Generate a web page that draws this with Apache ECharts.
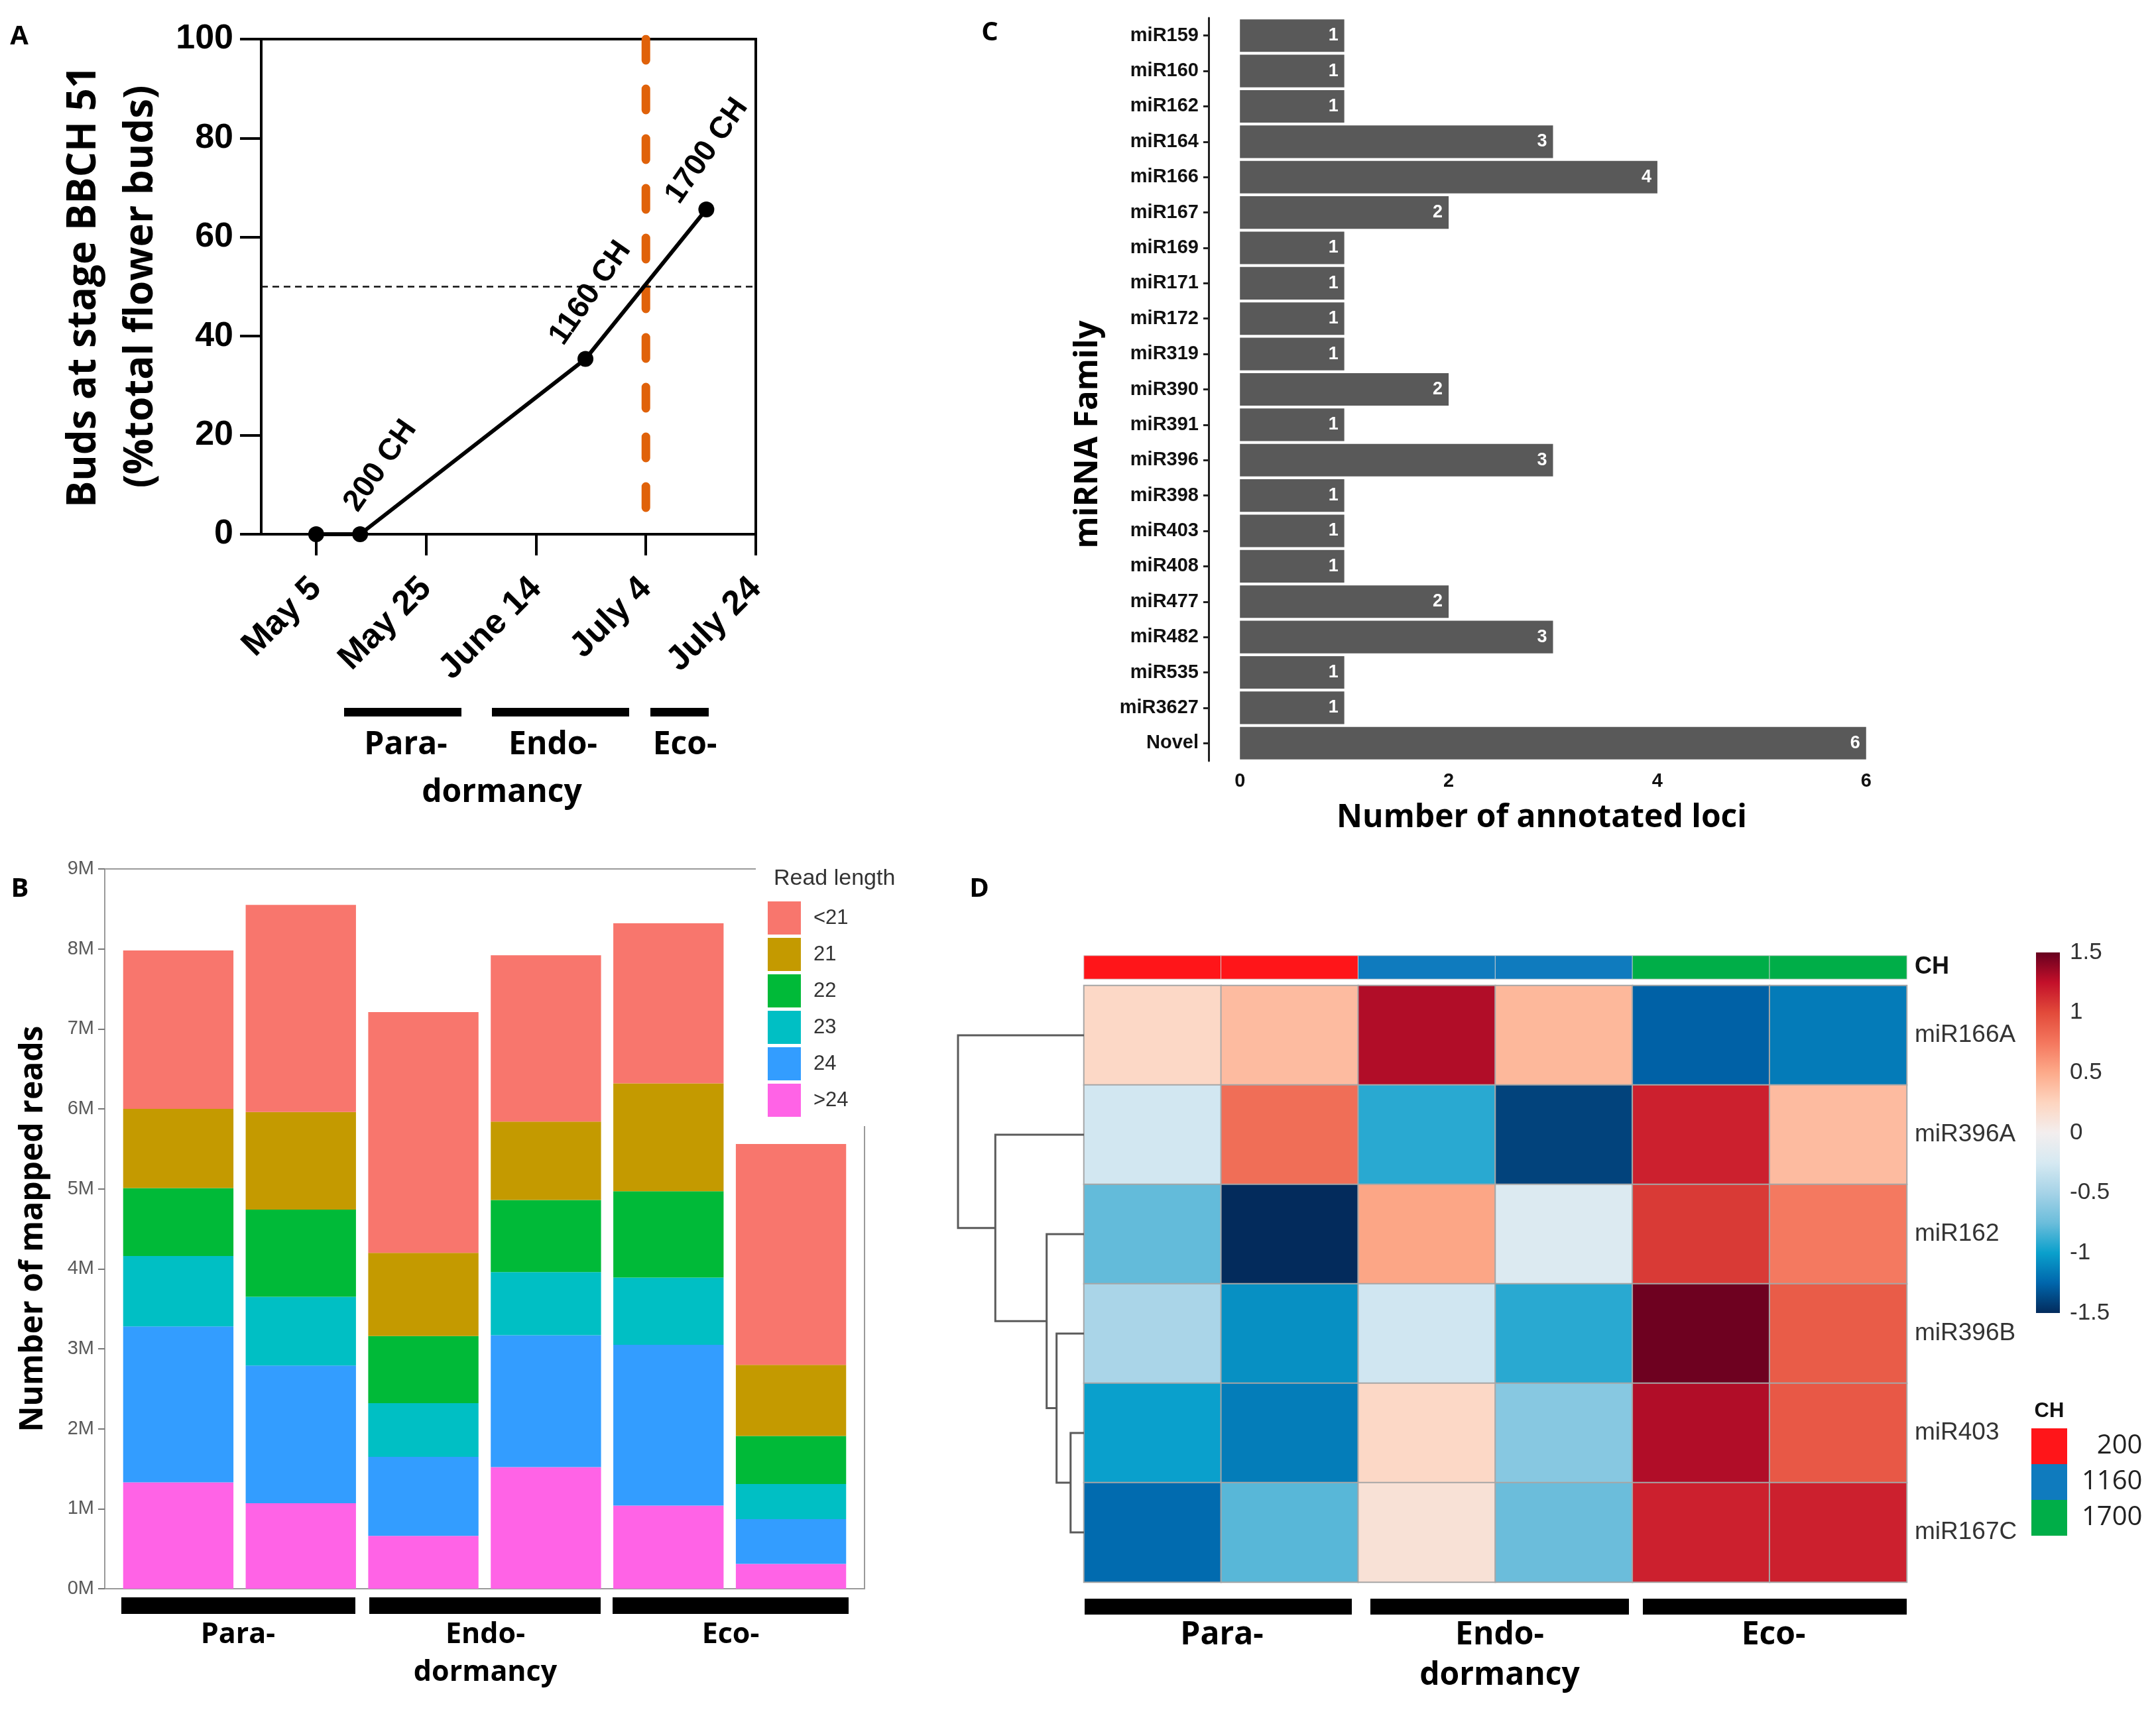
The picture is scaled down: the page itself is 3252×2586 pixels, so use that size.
<!DOCTYPE html>
<html><head><meta charset="utf-8">
<script src="https://cdn.jsdelivr.net/npm/echarts@6/dist/echarts.min.js"></script>
<style>html,body{margin:0;padding:0;background:#fff}#c{width:3252px;height:2586px}</style>
</head><body><div id="c"></div>
<script>
// ---------- Panel A data ----------
const budDays = [0, 8, 49, 71];            // days after May 5
const budPct = [0, 0, 35.4, 65.6];
const noteText = ['200 CH', '1160 CH', '1700 CH'];
const noteDays = [11.7, 49.9, 71.1];
const notePct = [13.8, 48.7, 77.4];
const dateTickDays = [0, 20, 40, 60, 80];
const dateTickLabels = ['May 5', 'May 25', 'June 14', 'July 4', 'July 24'];
const thresholdPct = 50;
const ecoOnsetDay = 60;
const ecoLineRange = [100, 5];

// ---------- Panel C data ----------
const families = ['miR159','miR160','miR162','miR164','miR166','miR167','miR169','miR171','miR172','miR319','miR390','miR391','miR396','miR398','miR403','miR408','miR477','miR482','miR535','miR3627','Novel'];
const loci = [1,1,1,3,4,2,1,1,1,1,2,1,3,1,1,1,2,3,1,1,6];
const lociTicks = [0, 2, 4, 6];

// ---------- Panel B data (millions of reads) ----------
const samplesB = ['Para-1','Para-2','Endo-1','Endo-2','Eco-1','Eco-2'];
const readGt24 = [1.33, 1.07, 0.66, 1.52, 1.04, 0.31];
const read24   = [1.95, 1.72, 0.99, 1.65, 2.01, 0.56];
const read23   = [0.88, 0.86, 0.67, 0.79, 0.84, 0.44];
const read22   = [0.85, 1.09, 0.84, 0.90, 1.08, 0.60];
const read21   = [0.99, 1.22, 1.04, 0.98, 1.35, 0.89];
const readLt21 = [1.98, 2.59, 3.01, 2.08, 2.00, 2.76];
const readNames = ['<21','21','22','23','24','>24'];

// ---------- Panel D data ----------
const hmRows = ['miR166A','miR396A','miR162','miR396B','miR403','miR167C'];
const hmCols = ['Para-1','Para-2','Endo-1','Endo-2','Eco-1','Eco-2'];
const z166A = [0.22, 0.40, 1.30, 0.42, -1.27, -1.16];
const z396A = [-0.27, 0.80, -0.92, -1.40, 1.18, 0.40];
const z162  = [-0.77, -1.50, 0.52, -0.20, 1.07, 0.74];
const z396B = [-0.48, -1.07, -0.28, -0.92, 1.48, 0.90];
const z403  = [-1.00, -1.15, 0.22, -0.63, 1.30, 0.92];
const z167C = [-1.23, -0.80, 0.13, -0.75, 1.18, 1.18];
const colCH = [200, 200, 1160, 1160, 1700, 1700];
const chLevels = [200, 1160, 1700];
// hclust-style merges: negative = leaf row (1-based), positive = earlier merge (1-based)
const dendroMerge = [[-5, -6], [-4, 1], [-3, 2], [-2, 3], [-1, 4]];
const dendroHeight = [0.85, 1.74, 2.37, 5.63, 8.0];
const zTicks = [-1.5, 1.5];

// ---------- styles ----------
const palette = ['#032B5C','#0066AC','#0AA0CC','#6BBDDB','#A6D3E7','#D6E9F2','#F3EEEE','#FDD5C0','#FDAA8A','#F4775E','#E24A3A','#C3102A','#67001F'];
const chColors = ['#FF1519', '#0F7BBE', '#00AE48'];
const readColors = {'<21':'#F8766D','21':'#C49A00','22':'#00BA38','23':'#00BFC4','24':'#339DFF','>24':'#FF63E6'};
const LS = 'Liberation Sans, Arial, sans-serif';
const OS = 'Open Sans, sans-serif';

const hmZ = [z166A, z396A, z162, z396B, z403, z167C];
const hmData = [];
hmZ.forEach((row, r) => row.forEach((v, c) => hmData.push([c, r, v])));
const annData = colCH.map((v, c) => [c, 0, v]);

// dendrogram node positions
const nodePos = [];
function dpos(ref) { return ref < 0 ? {h: 0, y: -ref - 1} : nodePos[ref - 1]; }
dendroMerge.forEach((m, i) => {
  const a = dpos(m[0]), b = dpos(m[1]);
  nodePos.push({h: dendroHeight[i], y: (a.y + b.y) / 2});
});

const chart = echarts.init(document.getElementById('c'), null, {renderer: 'canvas'});

const hidden = {show: false};
function dateFmt(v) { const i = dateTickDays.indexOf(v); return i >= 0 ? dateTickLabels[i] : ''; }

const readStackOrder = [['>24', readGt24], ['24', read24], ['23', read23], ['22', read22], ['21', read21], ['<21', readLt21]];

const option = {
  animation: false,
  backgroundColor: '#fff',
  grid: [
    {left: 394, top: 59, width: 746, height: 747, show: true, borderColor: '#000', borderWidth: 4, outerBoundsMode: 'none'},
    {left: 1823, top: 27, width: 1039, height: 1121, outerBoundsMode: 'none'},
    {left: 176.5, top: 1311, width: 1109, height: 1086, outerBoundsMode: 'none'},
    {left: 1635, top: 1487, width: 1241, height: 900, outerBoundsMode: 'none'},
    {left: 1635, top: 1442, width: 1241, height: 35, outerBoundsMode: 'none'},
    {left: 1445, top: 1487, width: 190, height: 900, outerBoundsMode: 'none'},
    {left: 3071, top: 1437, width: 36, height: 544, outerBoundsMode: 'none'},
    {left: 158, top: 1311, width: 1146, height: 1086, show: true, borderColor: '#9a9a9a', borderWidth: 2, outerBoundsMode: 'none'}
  ],
  xAxis: [
    {gridIndex: 0, type: 'value', min: -10, max: 80,
      axisLine: {onZero: false, lineStyle: {color: '#000', width: 4}},
      axisTick: {customValues: dateTickDays, length: 32, lineStyle: {color: '#000', width: 4}},
      axisLabel: {customValues: dateTickDays, formatter: dateFmt, rotate: 45, margin: 74, fontSize: 52, fontWeight: 'bold', color: '#000', fontFamily: LS},
      splitLine: hidden},
    {gridIndex: 1, type: 'value', min: -0.3, max: 6.3,
      axisLine: {onZero: false, lineStyle: {color: '#222', width: 3}},
      axisTick: {customValues: lociTicks, length: 8, lineStyle: {color: '#222', width: 3}},
      axisLabel: {customValues: lociTicks, margin: 16, fontSize: 29, fontWeight: 'bold', color: '#111', fontFamily: LS},
      splitLine: hidden,
      name: 'Number of annotated loci', nameLocation: 'middle', nameGap: 62,
      nameTextStyle: {fontSize: 48, fontWeight: 'bold', color: '#000', fontFamily: OS, padding: [0, 34, 0, 0]}},
    {gridIndex: 2, type: 'category', data: samplesB,
      axisLine: hidden,
      axisTick: {alignWithLabel: true, length: 10, lineStyle: {color: '#777', width: 2}},
      axisLabel: hidden},
    {gridIndex: 3, type: 'category', data: hmCols, axisLine: hidden, axisTick: hidden, axisLabel: hidden},
    {gridIndex: 4, type: 'category', data: hmCols, axisLine: hidden, axisTick: hidden, axisLabel: hidden},
    {gridIndex: 5, type: 'value', min: 0, max: dendroHeight[dendroHeight.length - 1], inverse: true, show: false},
    {gridIndex: 6, type: 'value', min: 0, max: 1, show: false}
  ],
  yAxis: [
    {gridIndex: 0, type: 'value', min: 0, max: 100, interval: 20,
      axisLine: {show: true, onZero: false, lineStyle: {color: '#000', width: 4}},
      axisTick: {show: true, length: 32, lineStyle: {color: '#000', width: 4}},
      axisLabel: {margin: 42, fontSize: 52, fontWeight: 'bold', color: '#000', fontFamily: LS},
      splitLine: hidden,
      name: 'Buds at stage BBCH 51\n(%total flower buds)', nameLocation: 'middle', nameRotate: 90, nameGap: 138,
      nameTextStyle: {fontSize: 60, fontWeight: 'bold', color: '#000', fontFamily: OS, lineHeight: 86}},
    {gridIndex: 1, type: 'category', data: families, inverse: true,
      axisLine: {show: true, onZero: false, lineStyle: {color: '#222', width: 3}},
      axisTick: {show: true, alignWithLabel: true, length: 8, lineStyle: {color: '#222', width: 3}},
      axisLabel: {margin: 15, fontSize: 29, fontWeight: 'bold', color: '#111', fontFamily: LS},
      name: 'miRNA Family', nameLocation: 'middle', nameRotate: 90, nameGap: 157,
      nameTextStyle: {fontSize: 49, fontWeight: 'bold', color: '#000', fontFamily: OS, padding: [0, 136, 0, 0]}},
    {gridIndex: 2, type: 'value', min: 0, max: 9, interval: 1, offset: 18.5,
      axisLine: {show: false},
      axisTick: {show: true, length: 10, lineStyle: {color: '#777', width: 2}},
      axisLabel: {margin: 16, fontSize: 29, color: '#5a5a5a', fontFamily: LS, formatter: '{value}M'},
      splitLine: hidden,
      name: 'Number of mapped reads', nameLocation: 'middle', nameRotate: 90, nameGap: 84,
      nameTextStyle: {fontSize: 48, fontWeight: 'bold', color: '#000', fontFamily: OS}},
    {gridIndex: 3, type: 'category', data: hmRows, inverse: true, position: 'right',
      axisLine: hidden, axisTick: hidden,
      axisLabel: {margin: 12, fontSize: 37, color: '#333', fontFamily: LS}},
    {gridIndex: 4, type: 'category', data: ['CH'], position: 'right',
      axisLine: hidden, axisTick: hidden,
      axisLabel: {margin: 12, fontSize: 36, fontWeight: 'bold', color: '#111', fontFamily: LS}},
    {gridIndex: 5, type: 'value', min: -0.5, max: hmRows.length - 0.5, inverse: true, show: false},
    {gridIndex: 6, type: 'value', min: zTicks[0], max: zTicks[1], interval: 0.5, position: 'right',
      axisLine: hidden, axisTick: hidden, splitLine: hidden,
      axisLabel: {margin: 15, fontSize: 35, color: '#333', fontFamily: LS}}
  ],
  legend: {
    data: readNames, orient: 'vertical', left: 1140, top: 1300,
    padding: [60, 40, 14, 18], itemGap: 5, itemWidth: 50, itemHeight: 50, icon: 'rect',
    backgroundColor: '#fff', selectedMode: false, z: 10,
    textStyle: {fontSize: 31, color: '#333', fontFamily: LS, padding: [0, 0, 0, 14]}
  },
  visualMap: [
    {type: 'continuous', seriesIndex: 10, min: zTicks[0], max: zTicks[1], show: false, inRange: {color: palette}},
    {type: 'piecewise', seriesIndex: 11, orient: 'vertical', inverse: true, align: 'left', left: 3064, top: 2155, padding: 0,
      itemWidth: 54, itemHeight: 54, itemGap: 0, itemSymbol: 'rect', textGap: 22, selectedMode: false,
      pieces: chLevels.map((v, i) => ({value: v, label: (v < 1000 ? '\u2007' : '') + v, color: chColors[i]})),
      textStyle: {fontSize: 40, color: '#222', fontFamily: OS}}
  ],
  series: [
    // 0 eco-dormancy onset marker (orange dashed)
    {type: 'line', xAxisIndex: 0, yAxisIndex: 0, data: ecoLineRange.map(v => [ecoOnsetDay, v]), symbol: 'none', silent: true, z: 2,
      lineStyle: {color: '#E0620A', width: 13, type: [32, 43], cap: 'round'}},
    // 1 bud curve
    {type: 'line', xAxisIndex: 0, yAxisIndex: 0, data: budDays.map((d, i) => [d, budPct[i]]), symbol: 'circle', symbolSize: 24, z: 5,
      itemStyle: {color: '#000'}, lineStyle: {color: '#000', width: 6},
      markLine: {silent: true, symbol: ['none', 'none'], label: {show: false},
        lineStyle: {color: '#111', width: 2.5, type: [10, 7]}, data: [{yAxis: thresholdPct}]}},
    // 2 CH annotations
    {type: 'scatter', xAxisIndex: 0, yAxisIndex: 0, symbolSize: 0.5, itemStyle: {color: '#000', opacity: 1}, silent: true, z: 6,
      data: noteText.map((t, i) => [noteDays[i], notePct[i], t]),
      label: {show: true, position: 'inside', rotate: 55, formatter: p => p.value[2], fontSize: 46, fontWeight: 'bold', color: '#000', opacity: 1, textBorderWidth: 0, fontFamily: LS}},
    // 3 panel C bars
    {type: 'bar', xAxisIndex: 1, yAxisIndex: 1, data: loci, barCategoryGap: '8%',
      itemStyle: {color: '#595959'},
      label: {show: true, position: 'insideRight', distance: 9, color: '#fff', fontSize: 27, fontWeight: 'bold', fontFamily: LS}},
    // 4-9 panel B stacked bars
    ...readStackOrder.map(([name, arr]) => ({
      type: 'bar', name: name, xAxisIndex: 2, yAxisIndex: 2, stack: 'reads', data: arr, barCategoryGap: '10%',
      itemStyle: {color: readColors[name]}
    })),
    // 10 heatmap
    {type: 'heatmap', xAxisIndex: 3, yAxisIndex: 3, data: hmData,
      itemStyle: {borderColor: '#a6a6a6', borderWidth: 2}},
    // 11 CH annotation row
    {type: 'heatmap', xAxisIndex: 4, yAxisIndex: 4, data: annData,
      itemStyle: {borderColor: '#cfcfcf', borderWidth: 1}},
    // 12 dendrogram
    {type: 'custom', xAxisIndex: 5, yAxisIndex: 5, silent: true, clip: false,
      data: nodePos.map(n => [n.h, n.y]),
      renderItem: function (params, api) {
        const m = dendroMerge[params.dataIndex];
        const a = dpos(m[0]), b = dpos(m[1]), h = dendroHeight[params.dataIndex];
        const pts = [api.coord([a.h, a.y]), api.coord([h, a.y]), api.coord([h, b.y]), api.coord([b.h, b.y])];
        return {type: 'polyline', shape: {points: pts}, style: {stroke: '#5a5a5a', lineWidth: 3, fill: null}};
      }},
    // 13 colour bar
    {type: 'custom', xAxisIndex: 6, yAxisIndex: 6, silent: true, data: [[0, 0]],
      renderItem: function (params, api) {
        const cs = params.coordSys;
        const stops = palette.map((c, i) => ({offset: i / (palette.length - 1), color: c}));
        return {type: 'rect', shape: {x: cs.x, y: cs.y, width: cs.width, height: cs.height},
          style: {fill: new echarts.graphic.LinearGradient(0, 1, 0, 0, stops)}};
      }}
  ],
  graphic: [
    // panel letters
    ...[['A', 29, 56], ['B', 30, 1342], ['C', 1493, 50], ['D', 1477, 1342]].map(([t, x, y]) => ({
      type: 'text', x: x, y: y, z: 20, style: {text: t, fontSize: 40, fontWeight: 'bold', fontFamily: OS, fill: '#000', align: 'center', verticalAlign: 'middle'}})),
    // panel A phase bars
    ...[[519, 696], [742, 949], [981, 1069]].map(([a, b]) => ({type: 'rect', shape: {x: a, y: 1068, width: b - a, height: 13}, style: {fill: '#000'}})),
    ...[['Para-', 612, 1124], ['Endo-', 834, 1124], ['Eco-', 1033, 1124], ['dormancy', 757, 1196]].map(([t, x, y]) => ({
      type: 'text', x: x, y: y, style: {text: t, fontSize: 48, fontWeight: 'bold', fontFamily: OS, fill: '#000', align: 'center', verticalAlign: 'middle'}})),
    // panel B phase bars
    ...[[183, 536], [557, 906], [924, 1280]].map(([a, b]) => ({type: 'rect', shape: {x: a, y: 2410, width: b - a, height: 25}, style: {fill: '#000'}})),
    ...[['Para-', 359, 2467], ['Endo-', 732, 2467], ['Eco-', 1102, 2467], ['dormancy', 732, 2524]].map(([t, x, y]) => ({
      type: 'text', x: x, y: y, style: {text: t, fontSize: 43, fontWeight: 'bold', fontFamily: OS, fill: '#000', align: 'center', verticalAlign: 'middle'}})),
    {type: 'text', x: 1167, y: 1326, z: 30, style: {text: 'Read length', fontSize: 34, fontFamily: LS, fill: '#333', align: 'left', verticalAlign: 'middle'}},
    // panel D phase bars
    ...[[1636, 2039], [2067, 2457], [2478, 2876]].map(([a, b]) => ({type: 'rect', shape: {x: a, y: 2412, width: b - a, height: 24}, style: {fill: '#000'}})),
    ...[['Para-', 1843, 2467], ['Endo-', 2262, 2467], ['Eco-', 2675, 2467], ['dormancy', 2262, 2528]].map(([t, x, y]) => ({
      type: 'text', x: x, y: y, style: {text: t, fontSize: 48, fontWeight: 'bold', fontFamily: OS, fill: '#000', align: 'center', verticalAlign: 'middle'}})),
    {type: 'text', x: 3091, y: 2129, style: {text: 'CH', fontSize: 31, fontWeight: 'bold', fontFamily: LS, fill: '#111', align: 'center', verticalAlign: 'middle'}}
  ]
};
chart.setOption(option);
</script>
</body></html>
